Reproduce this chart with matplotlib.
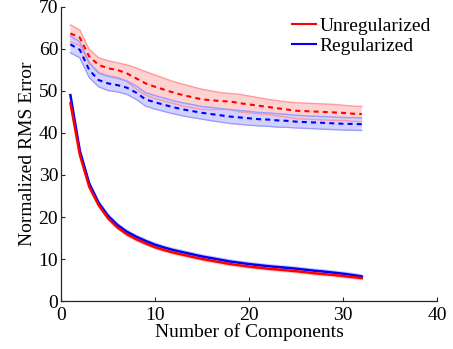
import numpy as np
import matplotlib
matplotlib.use("Agg")
import matplotlib.pyplot as plt

plt.rcParams['font.family'] = ['Liberation Serif', 'DejaVu Serif']
plt.rcParams['mathtext.fontset'] = 'stix'

# number of components
components = list(range(1, 33))

# solid curves
unreg_solid = [47.1, 34.8, 27.2, 22.8, 19.7, 17.5, 15.9, 14.7, 13.7, 12.8, 12.1, 11.5,
               11.0, 10.5, 10.0, 9.6, 9.2, 8.8, 8.5, 8.2, 7.95, 7.7, 7.5, 7.3,
               7.1, 6.85, 6.6, 6.4, 6.2, 5.95, 5.7, 5.45]
reg_solid = [49.0, 35.8, 28.0, 23.4, 20.3, 18.1, 16.5, 15.3, 14.3, 13.4, 12.7, 12.1,
             11.6, 11.1, 10.6, 10.2, 9.8, 9.4, 9.1, 8.8, 8.55, 8.3, 8.1, 7.9,
             7.7, 7.45, 7.2, 7.0, 6.75, 6.5, 6.2, 5.85]
solid_std = [0.3] * 32

# dashed curves (mean) with spread
unreg_mean = [63.7, 62.7, 58.2, 56.2, 55.4, 55.0, 54.2, 53.0, 51.8, 51.0, 50.3, 49.6,
              49.0, 48.5, 48.0, 47.8, 47.6, 47.5, 47.1, 46.8, 46.5, 46.2, 45.9, 45.6,
              45.3, 45.2, 45.1, 45.0, 44.9, 44.8, 44.6, 44.5]
unreg_std = [2.0, 1.8, 1.7, 1.7, 1.8, 1.7, 2.0, 2.5, 2.8, 2.8, 2.7, 2.6,
             2.6, 2.5, 2.4, 2.2, 2.0, 1.9, 2.1, 2.0, 1.9, 1.8, 1.8, 1.8,
             1.9, 1.9, 1.9, 1.9, 1.9, 1.8, 1.8, 1.8]
reg_mean = [61.1, 59.8, 55.0, 52.6, 51.8, 51.4, 50.8, 49.6, 48.0, 47.3, 46.7, 46.1,
            45.6, 45.2, 44.8, 44.5, 44.2, 43.9, 43.7, 43.5, 43.3, 43.2, 43.0, 42.9,
            42.7, 42.6, 42.5, 42.4, 42.3, 42.2, 42.15, 42.1]
reg_std = [2.0, 1.9, 1.8, 1.6, 1.7, 1.6, 1.6, 1.6, 1.6, 1.6, 1.6, 1.55,
           1.55, 1.55, 1.5, 1.6, 1.6, 1.65, 1.65, 1.65, 1.6, 1.6, 1.6, 1.55,
           1.5, 1.5, 1.5, 1.5, 1.5, 1.5, 1.5, 1.5]

x = np.array(components)
fig = plt.figure(figsize=(4.53, 3.49), dpi=100)
ax = fig.add_axes([0.1347, 0.1375, 0.83, 0.8425])

def band(mean, std, fill, edge):
    m = np.array(mean)
    s = np.array(std)
    ax.fill_between(x, m - s, m + s, facecolor=fill, edgecolor='none', zorder=1)
    ax.plot(x, m + s, color=edge, lw=1.0, zorder=2)
    ax.plot(x, m - s, color=edge, lw=1.0, zorder=2)

band(unreg_mean, unreg_std, '#ffd2d2', '#ff9a9a')
band(reg_mean, reg_std, '#d2d2ff', '#9a9aff')
ax.plot(x, unreg_mean, color='#ff0000', lw=1.5, ls=(0, (2.4, 2.0)), zorder=3)
ax.plot(x, reg_mean, color='#0000ff', lw=1.5, ls=(0, (2.4, 2.0)), zorder=3)

for vals, c, fc in [(reg_solid, '#0000ff', '#c8c8ff'), (unreg_solid, '#ff0000', '#ffc8c8')]:
    v = np.array(vals)
    ax.fill_between(x, v - np.array(solid_std) - 0.25, v + np.array(solid_std) + 0.25,
                    facecolor=fc, edgecolor='none', zorder=3)
    ax.plot(x, v, color=c, lw=1.8, zorder=4)

ax.plot([], [], color='#ff0000', lw=1.5, label='Unregularized')
ax.plot([], [], color='#0000ff', lw=1.5, label='Regularized')

ax.set_xlim(0, 40)
ax.set_ylim(0, 70)
ax.set_xticks([0, 10, 20, 30, 40])
ax.set_yticks(range(0, 71, 10))
ax.tick_params(direction='in', length=3, width=0.8, labelsize=14, colors='#262626',
               labelcolor='black')
ax.tick_params(axis='x', pad=4)
ax.tick_params(axis='y', pad=2)
ax.spines['top'].set_visible(False)
ax.spines['right'].set_visible(False)
for s in ['left', 'bottom']:
    ax.spines[s].set_color('#262626')
    ax.spines[s].set_linewidth(0.9)

ax.set_xlabel('Number of Components', fontsize=14, labelpad=0)
ax.set_ylabel('Normalized RMS Error', fontsize=14, labelpad=2)

ax.legend(loc='upper right', bbox_to_anchor=(1.02, 1.01), frameon=False, fontsize=14,
          handlelength=1.2, handletextpad=0.2, labelspacing=0.1, borderpad=0.2)

fig.savefig('out.png', dpi=100)
